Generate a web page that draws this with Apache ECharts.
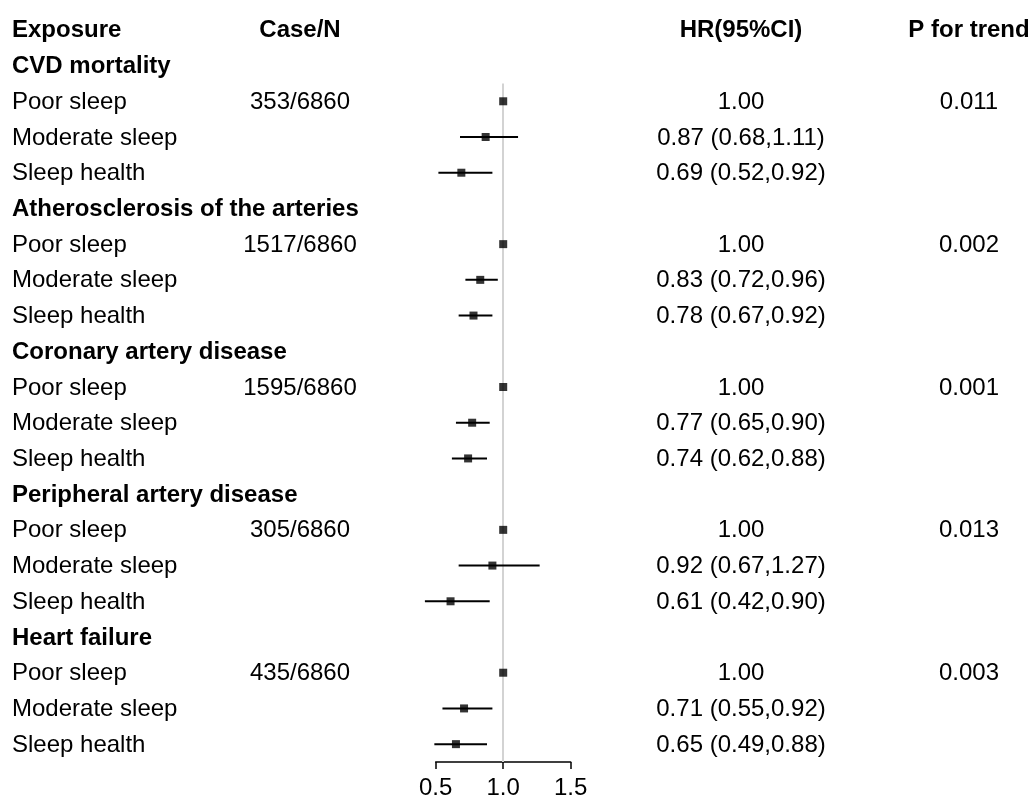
<!DOCTYPE html>
<html>
<head>
<meta charset="utf-8">
<script src="https://cdn.jsdelivr.net/npm/echarts@6/dist/echarts.min.js"></script>
<style>
  html, body { margin: 0; padding: 0; background: #fff; }
  #main { width: 1032px; height: 797px; }
</style>
</head>
<body>
<div id="main"></div>
<script>
var groups = ['CVD mortality', 'Atherosclerosis of the arteries', 'Coronary artery disease', 'Peripheral artery disease', 'Heart failure'];
var exposures = ['Poor sleep', 'Moderate sleep', 'Sleep health'];
var cases = [353, 1517, 1595, 305, 435];
var totals = [6860, 6860, 6860, 6860, 6860];
var hr = [[1.00, 0.87, 0.69], [1.00, 0.83, 0.78], [1.00, 0.77, 0.74], [1.00, 0.92, 0.61], [1.00, 0.71, 0.65]];
var lower = [[null, 0.68, 0.52], [null, 0.72, 0.67], [null, 0.65, 0.62], [null, 0.67, 0.42], [null, 0.55, 0.49]];
var upper = [[null, 1.11, 0.92], [null, 0.96, 0.92], [null, 0.90, 0.88], [null, 1.27, 0.90], [null, 0.92, 0.88]];
var pTrend = ['0.011', '0.002', '0.001', '0.013', '0.003'];
var headers = ['Exposure', 'Case/N', 'HR(95%CI)', 'P for trend'];
var xTicks = [0.5, 1.0, 1.5];

var FONT = '"Liberation Sans", Arial, Helvetica, sans-serif';
var FS = 24;
var nRows = 1 + groups.length * 4;

// text column positions (pixels in the full-width grid)
var colExp = 12, colCase = 300, colHR = 741, colP = 969;

// build text cells and forest rows
var texts = [];   // [x, row]
var textInfo = []; // {s, align, bold}
function addText(x, row, s, align, bold) {
  texts.push([x, row]);
  textInfo.push({ s: s, align: align, bold: bold });
}
addText(colExp, 0, headers[0], 'left', true);
addText(colCase, 0, headers[1], 'center', true);
addText(colHR, 0, headers[2], 'center', true);
addText(colP, 0, headers[3], 'center', true);

var points = [], cis = [];
groups.forEach(function (g, gi) {
  var r0 = 1 + gi * 4;
  addText(colExp, r0, g, 'left', true);
  exposures.forEach(function (e, k) {
    var r = r0 + 1 + k;
    addText(colExp, r, e, 'left', false);
    var h = hr[gi][k];
    var label = h.toFixed(2);
    if (lower[gi][k] != null) {
      label += ' (' + lower[gi][k].toFixed(2) + ',' + upper[gi][k].toFixed(2) + ')';
      cis.push([lower[gi][k], upper[gi][k], r]);
    }
    addText(colHR, r, label, 'center', false);
    if (k === 0) {
      addText(colCase, r, cases[gi] + '/' + totals[gi], 'center', false);
      addText(colP, r, pTrend[gi], 'center', false);
    }
    points.push([h, r]);
  });
});

var gridTop = 12, gridH = 750;

var chart = echarts.init(document.getElementById('main'), null, { renderer: 'canvas' });
var option = {
  animation: false,
  backgroundColor: '#ffffff',
  textStyle: { fontFamily: FONT },
  grid: [
    { left: 0, width: 1032, top: gridTop, height: gridH, outerBoundsMode: 'none' },
    { left: 435.7, width: 135, top: gridTop, height: gridH, outerBoundsMode: 'none' }
  ],
  xAxis: [
    { gridIndex: 0, type: 'value', min: 0, max: 1032, show: false },
    {
      gridIndex: 1, type: 'value', min: 0.5, max: 1.5, interval: 0.5,
      position: 'bottom',
      axisLine: { show: true, onZero: false, lineStyle: { color: '#000', width: 1.5 } },
      axisTick: { show: true, length: 7, lineStyle: { color: '#000', width: 1.5 } },
      splitLine: { show: false },
      axisLabel: { margin: 14, color: '#000', fontSize: FS, fontFamily: FONT,
        formatter: function (v) { return v.toFixed(1); } },
      customValues: xTicks
    }
  ],
  yAxis: [
    { gridIndex: 0, type: 'value', min: -0.5, max: nRows - 0.5, inverse: true, show: false },
    { gridIndex: 1, type: 'value', min: -0.5, max: nRows - 0.5, inverse: true, show: false }
  ],
  series: [
    {
      type: 'custom',
      xAxisIndex: 0, yAxisIndex: 0,
      data: texts,
      renderItem: function (params, api) {
        var p = api.coord([api.value(0), api.value(1)]);
        var info = textInfo[params.dataIndex];
        return {
          type: 'text',
          x: p[0], y: p[1] + 1,
          style: {
            text: info.s,
            align: info.align,
            verticalAlign: 'middle',
            fill: '#000',
            font: (info.bold ? 'bold ' : '') + FS + 'px ' + FONT
          }
        };
      },
      silent: true
    },
    {
      type: 'custom',
      xAxisIndex: 1, yAxisIndex: 1,
      data: cis,
      renderItem: function (params, api) {
        var a = api.coord([api.value(0), api.value(2)]);
        var b = api.coord([api.value(1), api.value(2)]);
        return {
          type: 'line',
          shape: { x1: a[0], y1: a[1], x2: b[0], y2: b[1] },
          style: { stroke: '#000', lineWidth: 2 }
        };
      },
      z: 3,
      silent: true
    },
    {
      type: 'scatter',
      xAxisIndex: 1, yAxisIndex: 1,
      data: points,
      symbol: 'rect',
      symbolSize: 8,
      itemStyle: { color: '#000' },
      z: 4,
      silent: true,
      markLine: {
        silent: true,
        symbol: 'none',
        label: { show: false },
        lineStyle: { color: '#d3d3d3', width: 2, type: 'solid' },
        data: [[{ coord: [1, 1.5] }, { coord: [1, nRows - 0.5] }]],
        z: 1
      }
    }
  ]
};
chart.setOption(option);
window.addEventListener('resize', chart.resize);
</script>
</body>
</html>
